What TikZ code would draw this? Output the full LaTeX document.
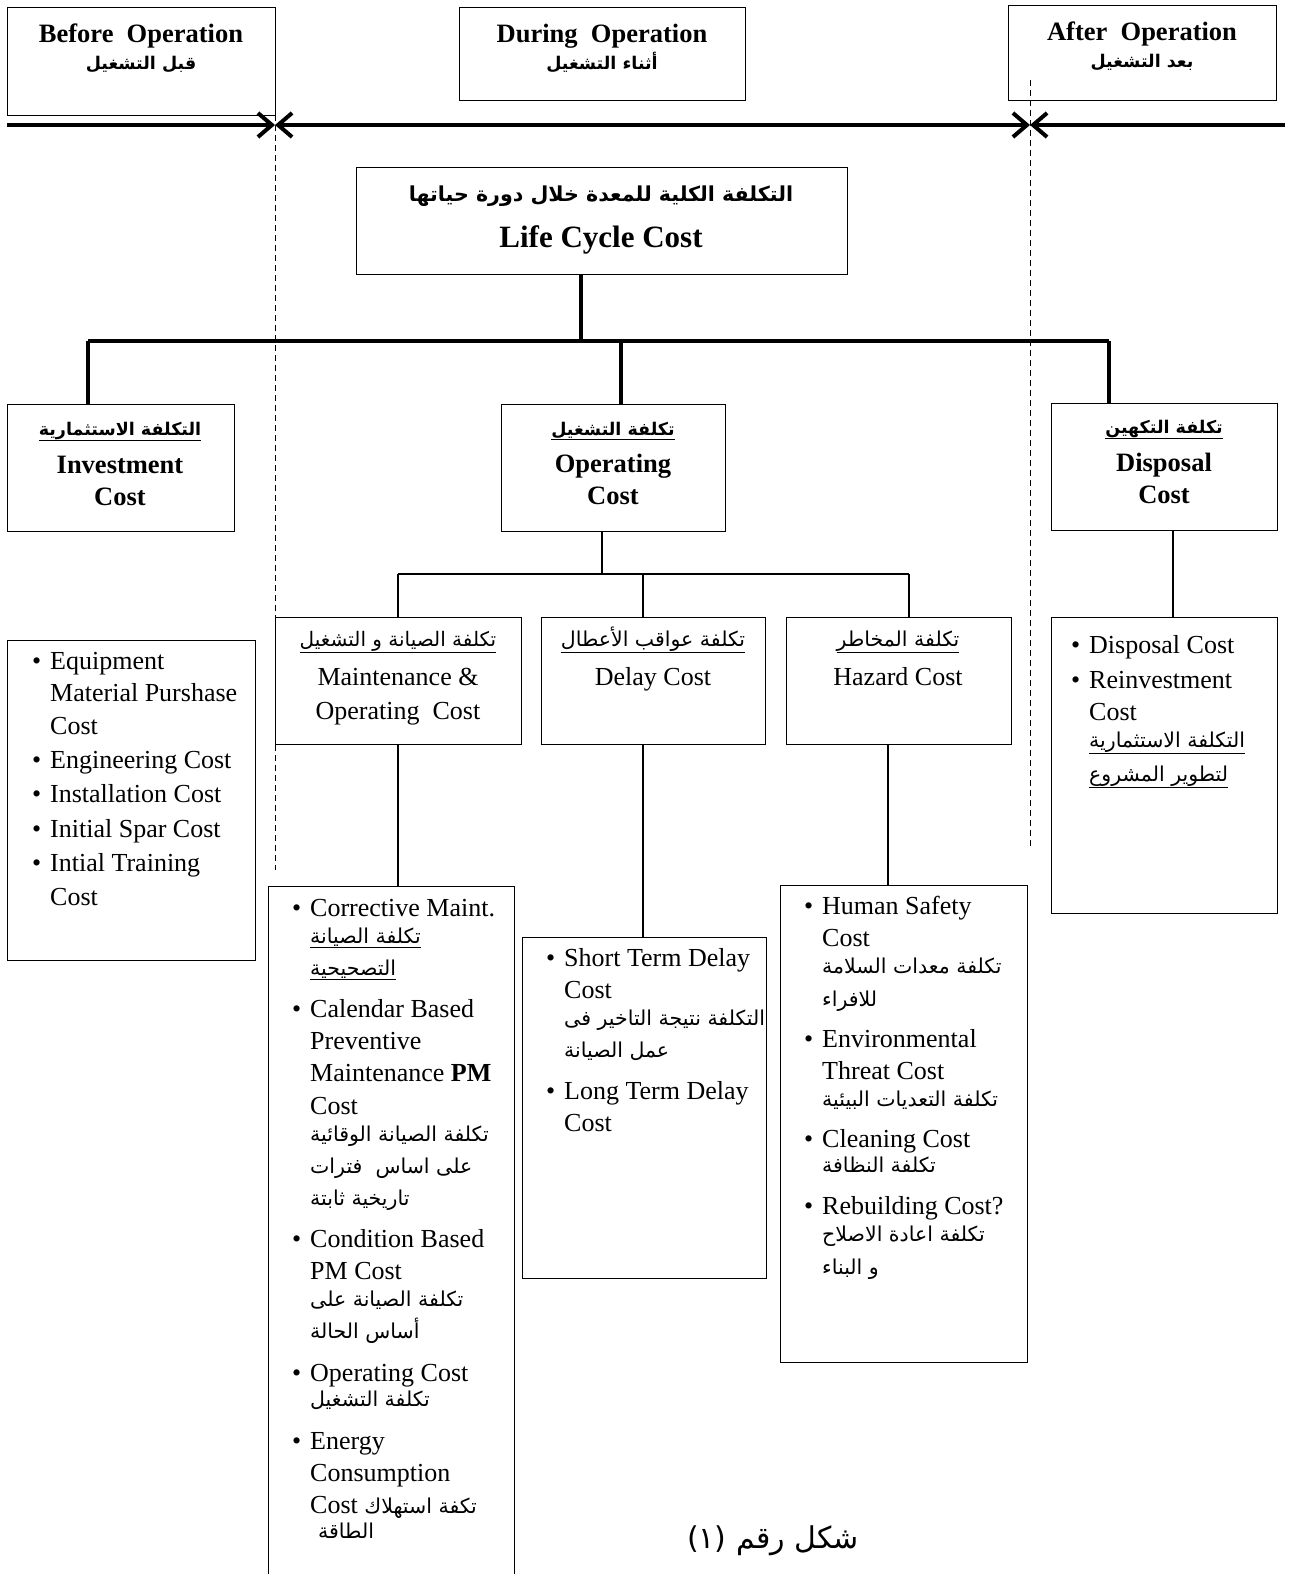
\documentclass[tikz,border=0pt]{standalone}
\usepackage{fontspec}
\setmainfont{Liberation Serif}
\newfontfamily\arabicfont[Script=Arabic]{DejaVu Sans}
\TeXXeTstate=1
\usetikzlibrary{arrows.meta}
\newcommand\AR[2][20.5]{{\arabicfont\fontsize{#1}{#1}\selectfont\beginR #2\endR}}
\newcommand\ARB[2][17.5]{{\arabicfont\bfseries\fontsize{#1}{#1}\selectfont\beginR #2\endR}}
\newcommand\ARU[2][20.5]{\underline{\hbox{\arabicfont\fontsize{#1}{#1}\selectfont\beginR #2\endR}}}
\newcommand\ARBU[2][17.5]{\underline{\hbox{\arabicfont\bfseries\fontsize{#1}{#1}\selectfont\beginR #2\endR}}}
\newcommand\bl{\llap{\textbullet\hspace{9pt}}}
\newcommand\mybox[5]{\node[box, minimum width={#4pt-#2pt}, minimum height={#5pt-#3pt}] (#1) at (#2,#3) {};}
\tikzset{
  box/.style={draw, line width=1.2pt, inner sep=0pt, anchor=north west},
  txt/.style={inner sep=0pt, anchor=base, font=\fontsize{26}{30}\selectfont},
  hdr/.style={inner sep=0pt, anchor=base, font=\fontsize{26.5}{30}\selectfont\bfseries},
  lst/.style={inner sep=0pt, anchor=base west, font=\fontsize{26}{30}\selectfont},
  tl/.style={line width=4pt, -{Straight Barb[length=14pt,width=24pt]}},
  thick tree/.style={line width=4pt},
  thin tree/.style={line width=1.2pt},
  period/.style={line width=1pt, dash pattern=on 6pt off 4pt}
}
\begin{document}
\begin{tikzpicture}[x=1pt,y=-1pt]
\useasboundingbox (0,0) rectangle (1292,1574);
\fill[white] (0,0) rectangle (1292,1574);

% period boxes
\mybox{before}{7}{7}{275}{115}
\mybox{during}{459}{7}{745}{100}
\mybox{after}{1008}{5}{1276}{100}
\node[hdr] (beforeT) at (141,42) {Before\ \ Operation};
\node[hdr] (beforeA) at (141,69) {\ARB{قبل التشغيل}};
\node[hdr] (duringT) at (602,42) {During\ \ Operation};
\node[hdr] (duringA) at (602,69) {\ARB{أثناء التشغيل}};
\node[hdr] (afterT) at (1142,40) {After\ \ Operation};
\node[hdr] (afterA) at (1142,67) {\ARB{بعد التشغيل}};

% time line
\coordinate (t0) at (7,125);
\coordinate (tA) at (275,125);
\coordinate (tB) at (1030,125);
\coordinate (t1) at (1285,125);
\draw[tl] (t0) -- (tA);
\draw[tl, {Straight Barb[length=14pt,width=24pt]}-{Straight Barb[length=14pt,width=24pt]}] (tA) -- (tB);
\draw[tl] (t1) -- (tB);

% dashed separators
\coordinate (dA1) at (275,115);
\coordinate (dA2) at (275,870);
\coordinate (dB1) at (1030,80);
\coordinate (dB2) at (1030,848);
\draw[period] (dA1) -- (dA2);
\draw[period] (dB1) -- (dB2);

% life cycle cost
\mybox{lcc}{356}{167}{847}{274}
\node[hdr] (lccA) at (601,201) {\ARB[20.6]{التكلفة الكلية للمعدة خلال دورة حياتها}};
\node[hdr, font=\fontsize{31}{34}\selectfont\bfseries] (lccT) at (601,247) {Life Cycle Cost};

% level 1 boxes
\mybox{inv}{7}{404}{234}{531}
\mybox{oper}{501}{404}{725}{531}
\mybox{disp}{1051}{403}{1277}{530}
\node[hdr] (invA) at (120,435) {\ARBU{التكلفة الاستثمارية}};
\node[hdr] (invT1) at (120,473) {Investment};
\node[hdr] (invT2) at (120,505) {Cost};
\node[hdr] (operA) at (613,435) {\ARBU{تكلفة التشغيل}};
\node[hdr] (operT1) at (613,472) {Operating};
\node[hdr] (operT2) at (613,504) {Cost};
\node[hdr] (dispA) at (1164,433) {\ARBU{تكلفة التكهين}};
\node[hdr] (dispT1) at (1164,471) {Disposal};
\node[hdr] (dispT2) at (1164,503) {Cost};

% thick tree
\coordinate (bar) at (581,341);
\coordinate (barL) at (88,341);
\coordinate (barM) at (621,341);
\coordinate (barR) at (1109,341);
\draw[thick tree] (lcc.south -| bar) -- (bar);
\draw[thick tree] (barL) -- (barR);
\draw[thick tree] (barL) -- (barL |- inv.north);
\draw[thick tree] (barM) -- (barM |- oper.north);
\draw[thick tree] (barR) -- (barR |- disp.north);

% level 2 boxes
\mybox{maint}{275}{617}{521}{744}
\mybox{delay}{541}{617}{765}{744}
\mybox{haz}{786}{617}{1011}{744}
\node[txt] (maintA) at (398,646) {\ARU[20]{تكلفة الصيانة و التشغيل}};
\node[txt] (maintT1) at (398,685) {Maintenance \&};
\node[txt] (maintT2) at (398,719) {Operating\ \ Cost};
\node[txt] (delayA) at (653,646) {\ARU[20.5]{تكلفة عواقب الأعطال}};
\node[txt] (delayT) at (653,685) {Delay Cost};
\node[txt] (hazA) at (898,646) {\ARU[20.5]{تكلفة المخاطر}};
\node[txt] (hazT) at (898,685) {Hazard Cost};

% thin tree for operating
\coordinate (ob) at (602,574);
\coordinate (obL) at (398,574);
\coordinate (obM) at (643,574);
\coordinate (obR) at (909,574);
\draw[thin tree] (oper.south -| ob) -- (ob);
\draw[thin tree] (obL) -- (obR);
\draw[thin tree] (obL) -- (obL |- maint.north);
\draw[thin tree] (obM) -- (obM |- delay.north);
\draw[thin tree] (obR) -- (obR |- haz.north);

% list boxes
\mybox{invL}{7}{640}{255}{960}
\mybox{dispL}{1051}{617}{1277}{913}
\mybox{maintL}{268}{886}{514}{1585}
\mybox{delayL}{522}{937}{766}{1278}
\mybox{hazL}{780}{885}{1027}{1362}
\coordinate (c1) at (398,744);
\coordinate (c2) at (643,744);
\coordinate (c3) at (888,744);
\coordinate (c4) at (1173,530);
\draw[thin tree] (c1) -- (c1 |- maintL.north);
\draw[thin tree] (c2) -- (c2 |- delayL.north);
\draw[thin tree] (c3) -- (c3 |- hazL.north);
\draw[thin tree] (c4) -- (c4 |- dispL.north);

% investment list
\node[lst] (i1) at (50,669) {\bl Equipment};
\node[lst] (i2) at (50,701) {Material Purshase};
\node[lst] (i3) at (50,734) {Cost};
\node[lst] (i4) at (50,768) {\bl Engineering Cost};
\node[lst] (i5) at (50,802) {\bl Installation Cost};
\node[lst] (i6) at (50,837) {\bl Initial Spar Cost};
\node[lst] (i7) at (50,871) {\bl Intial Training};
\node[lst] (i8) at (50,905) {Cost};

% maintenance list
\node[lst] (m1) at (310,916) {\bl Corrective Maint.};
\node[lst] (m2) at (310,943) {\ARU{تكلفة الصيانة}};
\node[lst] (m3) at (310,975) {\ARU{التصحيحية}};
\node[lst] (m4) at (310,1017) {\bl Calendar Based};
\node[lst] (m5) at (310,1049) {Preventive};
\node[lst] (m6) at (310,1081) {Maintenance \textbf{PM}};
\node[lst] (m7) at (310,1114) {Cost};
\node[lst] (m8) at (310,1141) {\AR{تكلفة الصيانة الوقائية}};
\node[lst] (m9) at (310,1173) {\AR{على اساس\ \ فترات}};
\node[lst] (m10) at (310,1205) {\AR{تاريخية ثابتة}};
\node[lst] (m11) at (310,1247) {\bl Condition Based};
\node[lst] (m12) at (310,1279) {PM Cost};
\node[lst] (m13) at (310,1306) {\AR{تكلفة الصيانة على}};
\node[lst] (m14) at (310,1338) {\AR{أساس الحالة}};
\node[lst] (m15) at (310,1381) {\bl Operating Cost};
\node[lst] (m16) at (310,1406) {\AR{تكلفة التشغيل}};
\node[lst] (m17) at (310,1449) {\bl Energy};
\node[lst] (m18) at (310,1481) {Consumption};
\node[lst] (m19) at (310,1513) {Cost \AR{تكفة استهلاك}};
\node[lst] (m20) at (318,1538) {\AR{الطاقة}};

% delay list
\node[lst] (d1) at (564,966) {\bl Short Term Delay};
\node[lst] (d2) at (564,998) {Cost};
\node[lst] (d3) at (564,1025) {\AR{التكلفة نتيجة التاخير فى}};
\node[lst] (d4) at (564,1057) {\AR{عمل الصيانة}};
\node[lst] (d5) at (564,1099) {\bl Long Term Delay};
\node[lst] (d6) at (564,1131) {Cost};

% hazard list
\node[lst] (h1) at (822,914) {\bl Human Safety};
\node[lst] (h2) at (822,946) {Cost};
\node[lst] (h3) at (822,973) {\AR{تكلفة معدات السلامة}};
\node[lst] (h4) at (822,1006) {\AR{للافراء}};
\node[lst] (h5) at (822,1047) {\bl Environmental};
\node[lst] (h6) at (822,1079) {Threat Cost};
\node[lst] (h7) at (822,1106) {\AR{تكلفة التعديات البيئية}};
\node[lst] (h8) at (822,1147) {\bl Cleaning Cost};
\node[lst] (h9) at (822,1172) {\AR{تكلفة النظافة}};
\node[lst] (h10) at (822,1214) {\bl Rebuilding Cost?};
\node[lst] (h11) at (822,1241) {\AR{تكلفة اعادة الاصلاح}};
\node[lst] (h12) at (822,1274) {\AR{و البناء}};

% disposal list
\node[lst] (p1) at (1089,653) {\bl Disposal Cost};
\node[lst] (p2) at (1089,688) {\bl Reinvestment};
\node[lst] (p3) at (1089,720) {Cost};
\node[lst] (p4) at (1089,747) {\ARU{التكلفة الاستثمارية}};
\node[lst] (p5) at (1089,781) {\ARU{لتطوير المشروع}};

% caption
\node[txt, font=\arabicfont\fontsize{30}{34}\selectfont] (cap) at (773,1548) {(١) \beginR شكل رقم\endR};
\end{tikzpicture}
\end{document}
